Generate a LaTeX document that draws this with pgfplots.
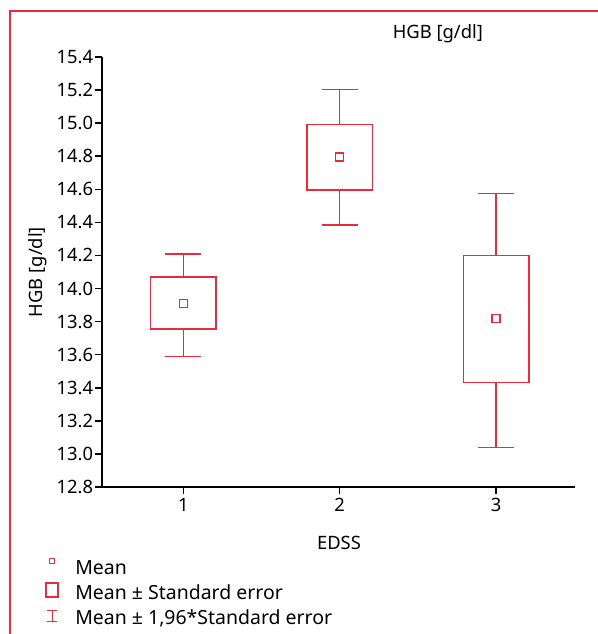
\documentclass[border=0pt]{standalone}
\usepackage{pgfplots}
\pgfplotsset{compat=1.18}
\usepackage{fontspec}
\setmainfont{Noto Sans}
\definecolor{boxred}{RGB}{232,44,62}
\newcommand{\chartfont}{\fontsize{13.8}{16.5}\selectfont}
\newcommand{\legfont}{\fontsize{14.6}{17}\selectfont}
\begin{document}
\begin{tikzpicture}
\path[use as bounding box] (0pt,0pt) rectangle (448.5pt,-475.5pt);
\draw[boxred, line width=0.8pt] (7.5pt,-480pt) -- (7.5pt,-8.25pt) -- (455pt,-8.25pt);
\begin{axis}[
  at={(76.5pt,-365.25pt)}, anchor=south west,
  scale only axis, width=354.75pt, height=322.5pt,
  xmin=0.48, xmax=3.505, ymin=12.8, ymax=15.4,
  clip=false, unbounded coords=jump,
  axis x line*=bottom, axis y line*=left,
  axis line style={black, line width=1.1pt, -},
  xtick={1,2,3},
  ytick={12.8,13.0,13.2,13.4,13.6,13.8,14.0,14.2,14.4,14.6,14.8,15.0,15.2,15.4},
  yticklabel style={inner xsep=1.5pt},
  y tick label style={/pgf/number format/fixed, /pgf/number format/fixed zerofill, /pgf/number format/precision=1},
  /pgf/number format/assume math mode=true,
  tick style={black, line width=1.1pt},
  major tick length=5pt, tick align=outside,
  ticklabel style={font=\chartfont},
  title={HGB [g/dl]},
  title style={at={(rel axis cs:0.71,1)}, anchor=center, yshift=11.25pt, font=\chartfont},
  xlabel={EDSS},
  xlabel style={at={(axis description cs:0.501,0)}, anchor=center, yshift=-42pt, font=\chartfont},
  ylabel={HGB [g/dl]},
  ylabel style={at={(axis description cs:-0.1353,0.5)}, anchor=center, font=\chartfont},
  legend cell align=left,
  legend style={at={(axis description cs:-0.1226,-0.160)}, anchor=north west,
    draw=none, fill=none, inner sep=0pt, font=\legfont,
    row sep=0pt, column sep=11.25pt,
    nodes={inner sep=0pt}},
]
% boxes: mean +- standard error
\addplot[boxred, line width=1pt, forget plot] coordinates
  {(0.79,13.755) (1.21,13.755) (1.21,14.07) (0.79,14.07)} -- cycle;
\addplot[boxred, line width=1pt, forget plot] coordinates
  {(1.79,14.595) (2.21,14.595) (2.21,14.99) (1.79,14.99)} -- cycle;
\addplot[boxred, line width=1pt, forget plot] coordinates
  {(2.79,13.43) (3.21,13.43) (3.21,14.20) (2.79,14.20)} -- cycle;
% whiskers: mean +- 1.96*standard error
\addplot[boxred, line width=1.1pt, forget plot] coordinates {
  (1,14.07) (1,14.21) (nan,nan) (0.885,14.21) (1.115,14.21) (nan,nan)
  (1,13.755) (1,13.59) (nan,nan) (0.885,13.59) (1.115,13.59) (nan,nan)
  (2,14.99) (2,15.205) (nan,nan) (1.885,15.205) (2.115,15.205) (nan,nan)
  (2,14.595) (2,14.385) (nan,nan) (1.885,14.385) (2.115,14.385) (nan,nan)
  (3,14.20) (3,14.575) (nan,nan) (2.885,14.575) (3.115,14.575) (nan,nan)
  (3,13.43) (3,13.04) (nan,nan) (2.885,13.04) (3.115,13.04)
};
% means
\addplot[only marks, mark=square*, mark size=3pt, draw=boxred, fill=white,
  mark options={line width=1pt, draw=boxred, fill=white, solid}, forget plot]
  coordinates {(1,13.91) (2,14.795) (3,13.82)};
% legend
\addlegendimage{legend image code/.code={
  \path[draw=none] (0pt,-9.375pt) rectangle (12pt,9.375pt);
  \draw[boxred, line width=0.8pt] (4.1pt,3.8pt) rectangle (7.9pt,7.6pt);}}
\addlegendentry{Mean}
\addlegendimage{legend image code/.code={
  \path[draw=none] (0pt,-9.375pt) rectangle (12pt,9.375pt);
  \draw[boxred, line width=1.4pt] (1.5pt,-2.65pt) rectangle (10.5pt,7.85pt);}}
\addlegendentry{Mean ± Standard error}
\addlegendimage{legend image code/.code={
  \path[draw=none] (0pt,-9.375pt) rectangle (12pt,9.375pt);
  \draw[boxred, line width=0.8pt] (2.25pt,-2.1pt) -- (9.75pt,-2.1pt)
     (6pt,-2.1pt) -- (6pt,6.1pt) (2.25pt,6.1pt) -- (9.75pt,6.1pt);}}
\addlegendentry{Mean ± 1,96*Standard error}
\end{axis}
\end{tikzpicture}
\end{document}
